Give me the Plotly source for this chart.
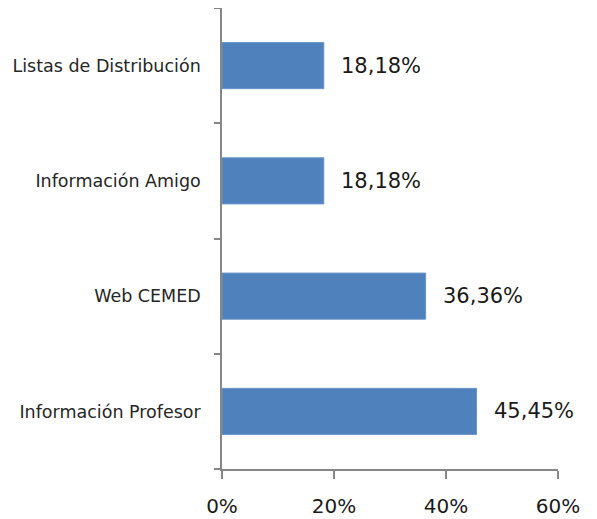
import plotly.graph_objects as go

categories = ["Información Profesor", "Web CEMED", "Información Amigo", "Listas de Distribución"]
values = [45.45, 36.36, 18.18, 18.18]
x_ticks = [0, 20, 40, 60]
x_tick_labels = ["0%", "20%", "40%", "60%"]

FONT = "DejaVu Sans"
AXIS_COLOR = "#868686"

fig = go.Figure()
fig.add_trace(go.Bar(
    x=values,
    y=categories,
    orientation="h",
    marker=dict(color="#4F81BD", line=dict(color="#6A94C8", width=1)),
    hoverinfo="skip",
))

for v, c in zip(values, categories):
    fig.add_annotation(
        x=v, y=c,
        text=f"{v:.2f}".replace(".", ",") + "%",
        showarrow=False,
        xanchor="left",
        xshift=15,
        font=dict(family=FONT, size=21, color="#1a1a1a"),
    )

# page body has an 8px default margin, so the figure is sized to fit inside it
fig.update_layout(
    width=589,
    height=511,
    margin=dict(l=214, r=39, t=0, b=50),
    plot_bgcolor="white",
    paper_bgcolor="white",
    bargap=0.6,
    showlegend=False,
    font=dict(family=FONT, color="#262626"),
)

fig.update_xaxes(
    range=[0, 60],
    tickvals=x_ticks,
    ticktext=x_tick_labels,
    showgrid=False,
    zeroline=False,
    showline=True,
    linecolor=AXIS_COLOR,
    linewidth=1.5,
    ticks="outside",
    ticklen=8,
    tickwidth=1.5,
    tickcolor=AXIS_COLOR,
    tickfont=dict(family=FONT, size=20, color="#1a1a1a"),
    ticklabelstandoff=10,
)

fig.update_yaxes(
    categoryorder="array",
    categoryarray=categories,
    showgrid=False,
    zeroline=False,
    showline=True,
    linecolor=AXIS_COLOR,
    linewidth=1.5,
    ticks="outside",
    tickson="boundaries",
    ticklen=6,
    tickwidth=1.5,
    tickcolor=AXIS_COLOR,
    tickfont=dict(family=FONT, size=17.5, color="#262626"),
    ticklabelstandoff=16,
)

fig.write_html("out.html")
